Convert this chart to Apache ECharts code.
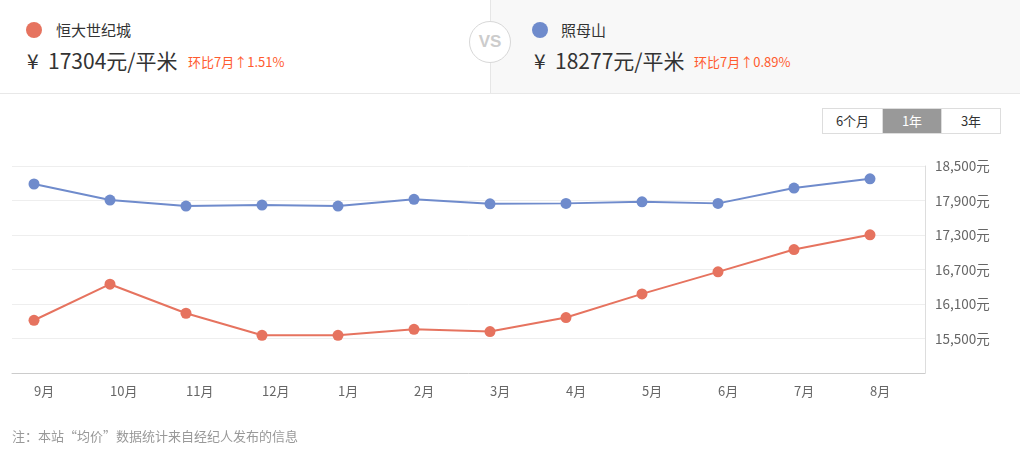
<!DOCTYPE html>
<html><head><meta charset="utf-8">
<script src="https://cdn.jsdelivr.net/npm/echarts@6/dist/echarts.min.js"></script>
<style>
html,body{margin:0;padding:0;width:1020px;height:458px;overflow:hidden;background:#fff;font-family:"Microsoft YaHei","Noto Sans CJK SC",sans-serif;}
#chart{position:absolute;left:0;top:0;width:1020px;height:458px;}
.hdr{position:absolute;left:0;top:0;width:1020px;height:93px;border-bottom:1px solid #e8e8e8;}
.half{position:absolute;top:0;height:93px;}
.left{left:0;width:490px;background:#fff;}
.right{left:490px;width:530px;background:#f8f8f8;border-left:1px solid #e6e6e6;}
.dot{position:absolute;width:16px;height:16px;border-radius:50%;}
.name{position:absolute;font-size:15px;color:#333;line-height:20px;}
.price{position:absolute;font-size:21px;color:#333;line-height:28px;white-space:nowrap;}
.chg{position:absolute;font-size:13px;color:#ff5b2e;line-height:18px;white-space:nowrap;}
.vs{position:absolute;left:469px;top:21px;width:40px;height:40px;border:1.5px solid #d8d8d8;border-radius:50%;background:#fff;color:#ccc;font-weight:bold;font-size:17px;text-align:center;line-height:40px;font-family:Arial,"Liberation Sans",sans-serif;}
.btns{position:absolute;left:822px;top:108px;height:24px;display:flex;border:1px solid #ddd;}
.btn{height:24px;line-height:24px;font-size:13px;color:#333;text-align:center;background:#fff;}
.btn.on{background:#999;color:#fff;}
.note{position:absolute;left:12px;top:427px;font-size:13px;color:#999;line-height:18px;}
</style></head>
<body>
<div id="chart"></div>
<div class="hdr">
  <div class="half left">
    <div class="dot" style="left:26px;top:22px;background:#e6735f"></div>
    <div class="name" style="left:56px;top:20px">恒大世纪城</div>
    <div class="price" style="left:27px;top:46px">¥&nbsp; 17304元/平米</div>
    <div class="chg" style="left:188px;top:53px">环比7月↑1.51%</div>
  </div>
  <div class="half right">
    <div class="dot" style="left:41px;top:22px;background:#6f8bcc"></div>
    <div class="name" style="left:70px;top:20px">照母山</div>
    <div class="price" style="left:43px;top:46px">¥&nbsp; 18277元/平米</div>
    <div class="chg" style="left:203px;top:53px">环比7月↑0.89%</div>
  </div>
  <div class="vs">VS</div>
</div>
<div class="btns">
  <div class="btn" style="width:59px;border-right:1px solid #ddd">6个月</div>
  <div class="btn on" style="width:58px">1年</div>
  <div class="btn" style="width:58px;border-left:1px solid #ddd">3年</div>
</div>
<div class="note">注：本站“均价”数据统计来自经纪人发布的信息</div>
<script>
var months = ['9月','10月','11月','12月','1月','2月','3月','4月','5月','6月','7月','8月'];
var hengda = [15817,16444,15939,15556,15556,15660,15620,15864,16276,16659,17047,17304];
var zhaomu = [18187,17908,17803,17821,17803,17920,17843,17850,17878,17850,18116,18277];
var seriesNames = ['恒大世纪城','照母山'];

function pairs(arr){ return arr.map(function(v,i){ return [i,v]; }); }
var idx = months.map(function(m,i){ return i; });

var chart = echarts.init(document.getElementById('chart'), null, {renderer:'canvas'});
chart.setOption({
  animation:false,
  grid:{left:12,right:95,top:166,bottom:85},
  xAxis:{
    type:'value', min:-0.2895, max:11.7237,
    axisLine:{show:true,onZero:false,lineStyle:{color:'#ccc',width:1}},
    axisTick:{show:false},
    splitLine:{show:false},
    axisLabel:{
      customValues:idx,
      formatter:function(v){ return months[Math.round(v)]; },
      align:'left', margin:12, color:'#666', fontSize:13,
      fontFamily:'"Microsoft YaHei","Noto Sans CJK SC",sans-serif'
    }
  },
  yAxis:{
    type:'value', position:'right', min:14900, max:18500, interval:600,
    axisLine:{show:true,onZero:false,lineStyle:{color:'#ddd',width:1}},
    axisTick:{show:false},
    splitLine:{show:true,lineStyle:{color:'#eee',width:1}},
    axisLabel:{
      showMinLabel:false, margin:10, color:'#666', fontSize:13.5,
      fontFamily:'"Microsoft YaHei","Noto Sans CJK SC",sans-serif',
      formatter:function(v){ return v.toLocaleString('en-US') + '元'; }
    }
  },
  series:[
    {name:seriesNames[0],type:'line',data:pairs(hengda),symbol:'circle',symbolSize:11,
     itemStyle:{color:'#e6735f'},lineStyle:{color:'#e6735f',width:2}},
    {name:seriesNames[1],type:'line',data:pairs(zhaomu),symbol:'circle',symbolSize:11,
     itemStyle:{color:'#6f8bcc'},lineStyle:{color:'#6f8bcc',width:2}}
  ]
});
</script>
</body></html>
